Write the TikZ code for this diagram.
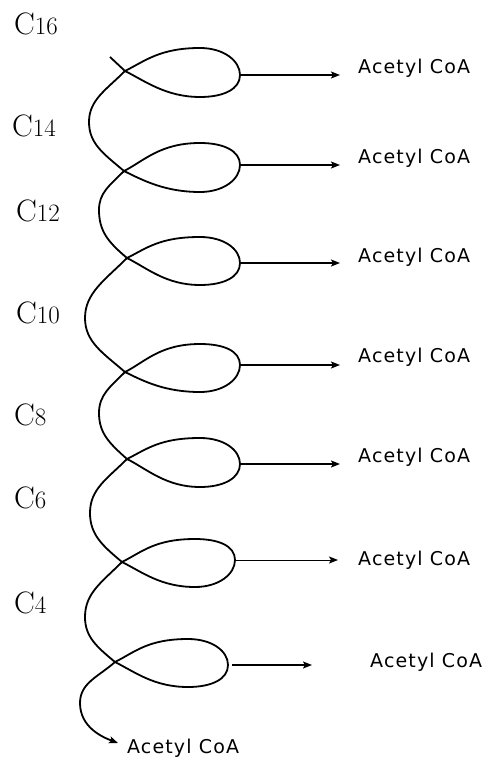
\documentclass[tikz,border=0pt]{standalone}
\usepackage{fontspec}
\usetikzlibrary{arrows.meta}
\newfontfamily\acfont[LetterSpace=6]{DejaVu Sans}
\tikzset{
  spiral/.style={line width=1.8pt, line join=round},
  tipstyle/.style={-{Stealth[length=9pt,width=7pt,inset=2pt]}},
  prod/.style={line width=1.8pt, tipstyle},
  thinprod/.style={line width=1pt, tipstyle},
  aclabel/.style={anchor=base west, inner sep=0pt, font=\acfont\fontsize{19}{22}\selectfont},
  clabel/.style={anchor=base west, inner sep=0pt, font=\fontsize{31}{34}\selectfont},
}
\newcommand{\cnum}[1]{C{\fontsize{25}{28}\selectfont #1}}
\begin{document}
\begin{tikzpicture}[x=1pt,y=-1pt]
\useasboundingbox (0,0) rectangle (489,759);
% spiral key points
\coordinate (s) at (110,57);
\coordinate (p1) at (125,71);  \coordinate (b1) at (200,97);  \coordinate (r1) at (240,75);  \coordinate (t1) at (200,48);  \coordinate (l1) at (89,122);
\coordinate (p2) at (124,171); \coordinate (b2) at (200,192); \coordinate (r2) at (240,165); \coordinate (t2) at (200,143); \coordinate (l2) at (99,210);
\coordinate (p3) at (127,258); \coordinate (b3) at (200,285); \coordinate (r3) at (240,263); \coordinate (t3) at (200,237); \coordinate (l3) at (85,318);
\coordinate (p4) at (125,372); \coordinate (b4) at (200,392); \coordinate (r4) at (240,365); \coordinate (t4) at (200,344); \coordinate (l4) at (99,413);
\coordinate (p5) at (127,459); \coordinate (b5) at (200,487); \coordinate (r5) at (240,464); \coordinate (t5) at (200,438); \coordinate (l5) at (90,513);
\coordinate (p6) at (122,562); \coordinate (b6) at (195,587); \coordinate (r6) at (235,560); \coordinate (t6) at (195,539); \coordinate (l6) at (85,617);
\coordinate (p7) at (115,662); \coordinate (b7) at (188,687); \coordinate (r7) at (228,665); \coordinate (t7) at (188,639); \coordinate (l7) at (80,703);
\coordinate (tip) at (118,743);

\draw[spiral, tipstyle] (s) -- (p1)
  .. controls +(20,10) and +(-34,0) .. (b1)
  .. controls +(24,0) and +(0,14) .. (r1)
  .. controls +(0,-14) and +(24,0) .. (t1)
  .. controls +(-40,0) and +(20,-10) .. (p1)
  .. controls +(-19,19) and +(0,-22) .. (l1)
  .. controls +(0,22) and +(-20,-17) .. (p2)
  .. controls +(20,10) and +(-34,0) .. (b2)
  .. controls +(24,0) and +(0,14) .. (r2)
  .. controls +(0,-14) and +(24,0) .. (t2)
  .. controls +(-40,0) and +(20,-10) .. (p2)
  .. controls +(-15,15) and +(0,-17) .. (l2)
  .. controls +(0,21) and +(-19,-16) .. (p3)
  .. controls +(20,10) and +(-34,0) .. (b3)
  .. controls +(24,0) and +(0,14) .. (r3)
  .. controls +(0,-14) and +(24,0) .. (t3)
  .. controls +(-40,0) and +(20,-10) .. (p3)
  .. controls +(-22,22) and +(0,-25) .. (l3)
  .. controls +(0,24) and +(-22,-19) .. (p4)
  .. controls +(20,10) and +(-34,0) .. (b4)
  .. controls +(24,0) and +(0,14) .. (r4)
  .. controls +(0,-14) and +(24,0) .. (t4)
  .. controls +(-40,0) and +(20,-10) .. (p4)
  .. controls +(-15,15) and +(0,-18) .. (l4)
  .. controls +(0,20) and +(-18,-16) .. (p5)
  .. controls +(20,10) and +(-34,0) .. (b5)
  .. controls +(24,0) and +(0,14) .. (r5)
  .. controls +(0,-14) and +(24,0) .. (t5)
  .. controls +(-40,0) and +(20,-10) .. (p5)
  .. controls +(-20,20) and +(0,-24) .. (l5)
  .. controls +(0,22) and +(-19,-16) .. (p6)
  .. controls +(20,10) and +(-34,0) .. (b6)
  .. controls +(24,0) and +(0,14) .. (r6)
  .. controls +(0,-14) and +(24,0) .. (t6)
  .. controls +(-40,0) and +(20,-10) .. (p6)
  .. controls +(-20,20) and +(0,-24) .. (l6)
  .. controls +(0,20) and +(-18,-15) .. (p7)
  .. controls +(20,10) and +(-34,0) .. (b7)
  .. controls +(24,0) and +(0,14) .. (r7)
  .. controls +(0,-14) and +(24,0) .. (t7)
  .. controls +(-40,0) and +(20,-10) .. (p7)
  .. controls +(-17,15) and +(0,-20) .. (l7)
  .. controls +(0,24) and +(-16,-6) .. (tip);

% arrow ends
\coordinate (e1) at (340,75);
\coordinate (e2) at (340,165);
\coordinate (e3) at (340,263);
\coordinate (e4) at (340,365);
\coordinate (e5) at (340,464);
\coordinate (e6) at (338,560);
\coordinate (e7) at (312,665);
\draw[prod] (r1) -- (e1);
\draw[prod] (r2) -- (e2);
\draw[prod] (r3) -- (e3);
\draw[prod] (r4) -- (e4);
\draw[prod] (r5) -- (e5);
\draw[thinprod] (r6) -- (e6);
\draw[prod, shorten <=4pt] (r7) -- (e7);

% product labels
\node[aclabel] (a1) at (358,74) {Acetyl CoA};
\node[aclabel] (a2) at (358,164) {Acetyl CoA};
\node[aclabel] (a3) at (358,262) {Acetyl CoA};
\node[aclabel] (a4) at (358,362) {Acetyl CoA};
\node[aclabel] (a5) at (358,462) {Acetyl CoA};
\node[aclabel] (a6) at (358,565) {Acetyl CoA};
\node[aclabel] (a7) at (370,667) {Acetyl CoA};
\node[aclabel] (a8) at (127,753) {Acetyl CoA};

% chain length labels
\node[clabel] (c16) at (14,35) {\cnum{16}};
\node[clabel] (c14) at (12,137) {\cnum{14}};
\node[clabel] (c12) at (16,222) {\cnum{12}};
\node[clabel] (c10) at (16,323) {\cnum{10}};
\node[clabel] (c8) at (14,425) {\cnum{8}};
\node[clabel] (c6) at (14,508) {\cnum{6}};
\node[clabel] (c4) at (14,613) {\cnum{4}};
\end{tikzpicture}
\end{document}
